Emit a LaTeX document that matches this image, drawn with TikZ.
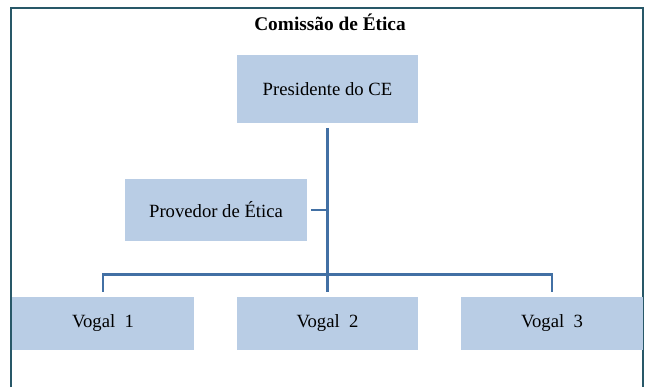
\documentclass[tikz,border=0pt]{standalone}
\usepackage{fontspec}
\setmainfont{Liberation Serif}
\usetikzlibrary{positioning}
\definecolor{boxfill}{RGB}{185,205,229}
\definecolor{linkblue}{RGB}{66,112,164}
\definecolor{framecol}{RGB}{40,88,104}
\tikzset{
  orgbox/.style={fill=boxfill,inner sep=0pt,minimum width=136pt,font=\fontsize{14}{16}\selectfont},
  conn/.style={draw=linkblue,line width=2.2pt}
}
\begin{document}
\begin{tikzpicture}[x=0.75pt,y=-0.75pt]
    \useasboundingbox (0,0) rectangle (645,387);
    \draw[framecol,line width=1.4pt] (11,387) -- (11,8) -- (643,8) -- (643,387);
    \node[font=\bfseries\fontsize{14.5}{16}\selectfont] (title) at (330,22) {Comissão de Ética};
    % boxes
    \node[orgbox,minimum height=51pt] (pres) at (327.5,89) {Presidente do CE};
    \node[orgbox,minimum height=47pt] (prov) at (216,210) {Provedor de Ética};
    \foreach \n/\x in {1/103,2/327.5,3/552} {
      \node[orgbox,minimum height=40pt] (vogal\n) at (\x,323.5) {Vogal\ \ \n};
    }
    % connectors
    \draw[conn] ([yshift=-3.5pt]pres.south) -- ([yshift=3.8pt]vogal2.north);
    \draw[conn] ([xshift=3pt]prov.east) -- (prov.east -| pres.south);
    \draw[conn] ([yshift=3.8pt]vogal1.north) |- ([yshift=16.5pt]vogal2.north) -| ([yshift=3.8pt]vogal3.north);
\end{tikzpicture}
\end{document}
